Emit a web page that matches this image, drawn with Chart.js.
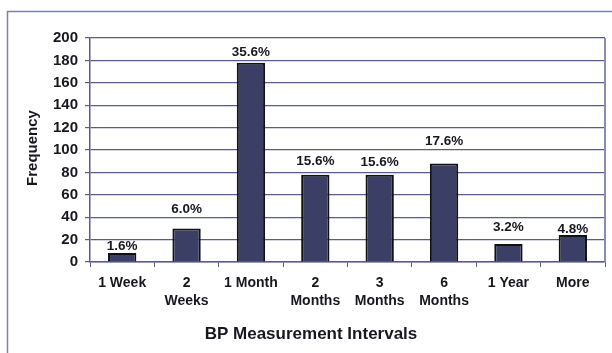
<!DOCTYPE html>
<html>
<head>
<meta charset="utf-8">
<script src="https://cdn.jsdelivr.net/npm/chart.js@4"></script>
<style>
  html, body { margin: 0; padding: 0; background: #fff; }
  #wrap { width: 612px; height: 353px; }
</style>
</head>
<body>
<div id="wrap"><canvas id="c" width="612" height="353"></canvas></div>
<script>
// Number of patients by blood-pressure measurement interval
const intervals = [['1 Week'], ['2', 'Weeks'], ['1 Month'], ['2', 'Months'], ['3', 'Months'], ['6', 'Months'], ['1 Year'], ['More']];
const frequency = [8, 30, 178, 78, 78, 88, 16, 24];
const yTicks = [0, 20, 40, 60, 80, 100, 120, 140, 160, 180, 200];

const total = frequency.reduce((a, b) => a + b, 0);
// vertical gap (px) between each bar top and its percentage label
const labelLift = [7, 19, 10, 13, 12, 22, 17, 6];

const FONT = '"Liberation Sans", Arial, sans-serif';
const INK = '#17171f';
const GRID = '#585c8c';

const decor = {
  id: 'decor',
  beforeDraw(chart) {
    const ctx = chart.ctx;
    ctx.save();
    ctx.fillStyle = '#fff';
    ctx.fillRect(0, 0, chart.width, chart.height);
    // outer frame
    ctx.strokeStyle = '#7c81a9';
    ctx.lineWidth = 1.5;
    ctx.beginPath();
    ctx.moveTo(7.5, chart.height + 2);
    ctx.lineTo(7.5, 11.5);
    ctx.lineTo(chart.width + 2, 11.5);
    ctx.stroke();
    ctx.restore();
  },
  afterDatasetsDraw(chart) {
    const ctx = chart.ctx;
    const area = chart.chartArea;
    ctx.save();
    // right edge of plot
    ctx.strokeStyle = '#8a8db2';
    ctx.lineWidth = 2;
    ctx.beginPath();
    ctx.moveTo(area.right, area.top);
    ctx.lineTo(area.right, area.bottom);
    ctx.stroke();
    // percentage labels
    ctx.fillStyle = INK;
    ctx.font = 'bold 13.5px ' + FONT;
    ctx.textAlign = 'center';
    ctx.textBaseline = 'middle';
    chart.getDatasetMeta(0).data.forEach((bar, i) => {
      const pct = (frequency[i] / total * 100).toFixed(1) + '%';
      ctx.fillText(pct, bar.x, bar.y - labelLift[i]);
    });
    // axis titles
    ctx.font = 'bold 17px ' + FONT;
    ctx.fillText('BP Measurement Intervals', 311, 334);
    ctx.translate(33, 148);
    ctx.rotate(-Math.PI / 2);
    ctx.font = 'bold 15px ' + FONT;
    ctx.fillText('Frequency', 0, 0);
    ctx.restore();
  }
};

new Chart(document.getElementById('c'), {
  type: 'bar',
  data: {
    labels: intervals,
    datasets: [{
      data: frequency,
      backgroundColor: '#3b3f66',
      borderColor: '#111',
      borderWidth: 2,
      categoryPercentage: 1,
      barPercentage: 0.44
    }]
  },
  options: {
    responsive: false,
    animation: false,
    events: [],
    layout: { padding: { top: 38, right: 7, bottom: 0, left: 0 } },
    plugins: { legend: { display: false }, tooltip: { enabled: false } },
    scales: {
      x: {
        afterFit(s) { s.height = 91; },
        grid: { offset: true, drawOnChartArea: false, drawTicks: true, tickLength: 5, color: GRID, lineWidth: 1 },
        border: { display: true, color: GRID, width: 1.5 },
        ticks: {
          color: INK,
          padding: 7,
          maxRotation: 0,
          autoSkip: false,
          font: { family: FONT, size: 14, weight: 'bold', lineHeight: '18px' }
        }
      },
      y: {
        min: 0,
        max: 200,
        afterFit(s) { s.width = 90; },
        afterBuildTicks(s) { s.ticks = yTicks.map(v => ({ value: v })); },
        grid: { color: GRID, lineWidth: 1.2, tickLength: 5 },
        border: { display: true, color: GRID, width: 1.5 },
        ticks: {
          color: INK,
          padding: 7,
          font: { family: FONT, size: 15, weight: 'bold' }
        }
      }
    }
  },
  plugins: [decor]
});
</script>
</body>
</html>
